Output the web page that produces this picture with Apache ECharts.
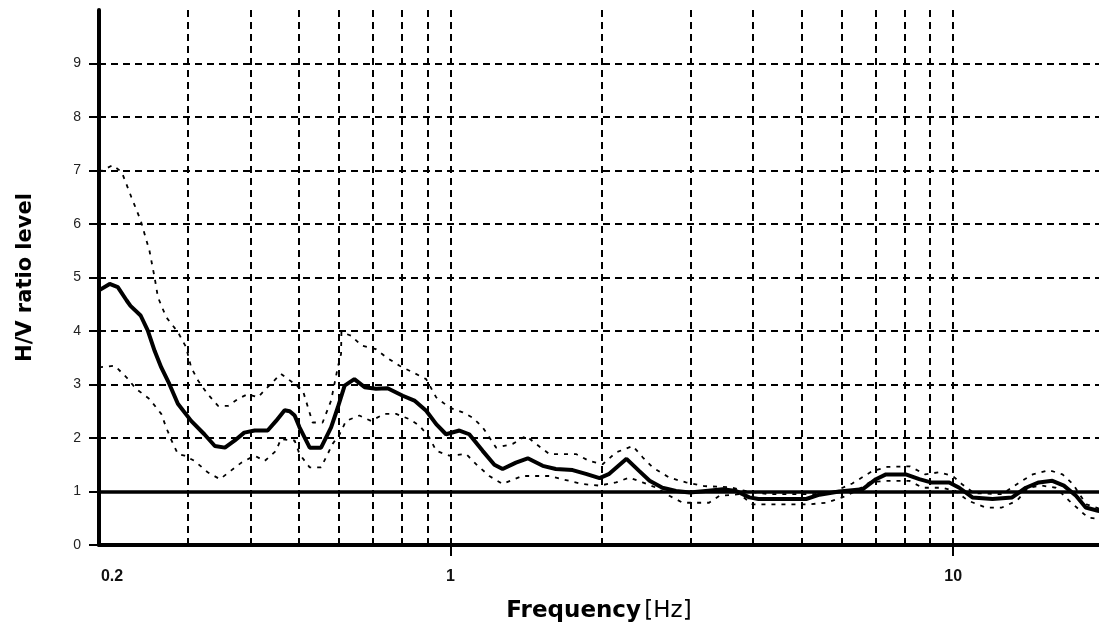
<!DOCTYPE html>
<html><head><meta charset="utf-8">
<script src="https://cdn.jsdelivr.net/npm/echarts@6/dist/echarts.min.js"></script>
<style>html,body{margin:0;padding:0;background:#fff}#c{width:1099px;height:634px}</style>
</head><body><div id="c"></div>
<script>
// Mean H/V curve
const freqMean = [0.2,0.21,0.218,0.227,0.231,0.242,0.25,0.258,0.266,0.276,0.287,0.305,0.324,0.34,0.356,0.372,0.389,0.408,0.433,0.45,0.468,0.479,0.49,0.501,0.525,0.553,0.579,0.597,0.616,0.644,0.675,0.711,0.75,0.804,0.848,0.895,0.937,0.98,1.042,1.09,1.159,1.223,1.27,1.35,1.425,1.526,1.62,1.75,1.86,1.98,2.07,2.24,2.37,2.49,2.64,2.81,2.99,3.22,3.48,3.7,3.93,4.1,5.1,5.42,5.93,6.6,7.02,7.35,8.05,8.56,9.03,9.82,10.28,10.92,11.97,13.1,13.95,14.8,15.75,16.6,17.55,18.35,19.4,20];
const hvMean = [4.76,4.88,4.82,4.57,4.47,4.29,4.01,3.63,3.32,3.01,2.64,2.32,2.07,1.85,1.82,1.95,2.10,2.14,2.14,2.32,2.52,2.50,2.42,2.20,1.82,1.82,2.20,2.57,2.98,3.10,2.95,2.92,2.93,2.79,2.70,2.51,2.26,2.07,2.14,2.07,1.76,1.50,1.42,1.54,1.62,1.48,1.42,1.40,1.33,1.25,1.33,1.61,1.39,1.20,1.07,1.01,0.98,1.01,1.04,1.01,0.89,0.86,0.86,0.94,1.00,1.04,1.23,1.32,1.32,1.23,1.17,1.17,1.07,0.89,0.86,0.89,1.07,1.17,1.20,1.11,0.92,0.70,0.64,0.62];

// Upper bound (mean + std)
const freqUpper = [0.2,0.213,0.222,0.232,0.242,0.252,0.258,0.262,0.272,0.287,0.298,0.305,0.315,0.329,0.345,0.361,0.378,0.395,0.414,0.433,0.46,0.49,0.509,0.532,0.557,0.579,0.597,0.606,0.607,0.635,0.665,0.711,0.745,0.792,0.841,0.895,0.937,0.995,1.058,1.107,1.159,1.233,1.33,1.414,1.48,1.573,1.778,1.889,2.008,2.135,2.304,2.412,2.525,2.725,2.941,3.2,3.6,3.9,4.3,5.3,5.8,6.3,6.9,7.4,8.2,8.8,9.38,9.98,10.4,11,12.5,13.7,14.4,15.5,16.5,17.3,18.4,19.4,20];
const hvUpper = [6.97,7.10,6.97,6.50,6.07,5.50,5.00,4.63,4.26,3.98,3.70,3.32,3.07,2.82,2.60,2.60,2.73,2.82,2.76,2.95,3.20,3.01,2.88,2.29,2.29,2.70,3.32,3.57,3.98,3.91,3.73,3.66,3.51,3.35,3.23,3.10,2.76,2.57,2.48,2.38,2.20,1.82,1.89,2.04,1.89,1.70,1.70,1.57,1.51,1.73,1.85,1.64,1.45,1.26,1.17,1.10,1.08,1.00,0.95,0.95,1.00,1.15,1.38,1.46,1.47,1.32,1.36,1.29,1.14,0.97,0.95,1.20,1.32,1.40,1.32,1.14,0.76,0.69,0.66];

// Lower bound (mean - std)
const freqLower = [0.2,0.215,0.227,0.237,0.252,0.266,0.272,0.278,0.287,0.296,0.31,0.329,0.348,0.366,0.384,0.408,0.427,0.45,0.46,0.49,0.501,0.525,0.553,0.57,0.583,0.602,0.62,0.659,0.695,0.739,0.78,0.83,0.868,0.908,0.937,0.995,1.075,1.125,1.195,1.27,1.39,1.573,1.67,1.83,1.98,2.135,2.27,2.41,2.57,2.725,2.9,3.08,3.27,3.43,3.76,3.99,5.17,5.58,6.02,6.41,6.81,7.35,8.18,8.7,9.5,10.1,10.7,11.6,12.5,13.4,14.1,15,16,17,18.2,18.6,20];
const hvLower = [3.32,3.35,3.13,2.92,2.73,2.45,2.20,1.98,1.70,1.67,1.57,1.36,1.23,1.39,1.54,1.67,1.57,1.76,1.98,1.95,1.70,1.45,1.45,1.70,1.89,2.07,2.32,2.42,2.32,2.45,2.45,2.35,2.23,2.01,1.76,1.67,1.70,1.51,1.29,1.14,1.29,1.29,1.23,1.14,1.11,1.17,1.26,1.17,1.07,0.92,0.79,0.79,0.79,0.92,0.95,0.76,0.76,0.79,0.89,1.01,1.17,1.20,1.20,1.07,1.07,1.01,0.83,0.70,0.70,0.83,1.07,1.11,1.07,0.83,0.58,0.51,0.48];

// Axis / grid values
const xGridLines = [0.3,0.4,0.5,0.6,0.7,0.8,0.9,1,2,3,4,5,6,7,8,9,10];
const yGridLines = [2,3,4,5,6,7,8,9];
const referenceLevel = 1;
const xTickLabels = [0.2, 1, 10];
const xMajorTicks = [1, 10];
const yTickLabels = [0,1,2,3,4,5,6,7,8,9];

const zip = (xs, ys) => xs.map((x, i) => [x, ys[i]]);

const chart = echarts.init(document.getElementById('c'), null, {renderer: 'canvas'});
const gridDash = {color: '#000', width: 2, type: [7, 5]};
const curveDash = {color: '#000', width: 1.8, type: [4, 6]};
chart.setOption({
  animation: false,
  backgroundColor: '#fff',
  grid: {left: 99, top: 10, right: 0, bottom: 89, containLabel: false},
  xAxis: {
    type: 'log', logBase: 10, min: 0.2, max: 19.5,
    name: '{b|Frequency} {n|[Hz]}', nameLocation: 'middle', nameGap: 55,
    nameTextStyle: {rich: {
      b: {fontFamily: 'DejaVu Sans', fontWeight: 'bold', fontSize: 23, color: '#000'},
      n: {fontFamily: 'DejaVu Sans', fontWeight: 'normal', fontSize: 23, color: '#000'}
    }},
    axisLine: {show: true, lineStyle: {color: '#000', width: 4}},
    axisTick: {show: true, customValues: xMajorTicks, length: 11, lineStyle: {color: '#000', width: 2}},
    axisLabel: {customValues: xTickLabels, margin: 24, fontFamily: 'Liberation Sans', fontWeight: 'bold', fontSize: 16, color: '#111',
      formatter: v => Math.abs(v - 0.2) < 0.01 ? '{p|0.2}' : String(Math.round(v)),
      rich: {p: {padding: [0, 0, 0, 26], fontFamily: 'Liberation Sans', fontWeight: 'bold', fontSize: 16, color: '#111'}}},
    splitLine: {show: false}
  },
  yAxis: {
    type: 'value', min: 0, max: 10,
    name: 'H/V ratio level', nameLocation: 'middle', nameRotate: 90, nameGap: 63,
    nameTextStyle: {fontFamily: 'DejaVu Sans', fontWeight: 'bold', fontSize: 21, color: '#000'},
    axisLine: {show: true, lineStyle: {color: '#000', width: 4}},
    axisTick: {show: true, customValues: yTickLabels, length: 10, lineStyle: {color: '#000', width: 2}},
    axisLabel: {customValues: yTickLabels, margin: 18, fontFamily: 'Liberation Sans', fontSize: 14, color: '#222'},
    splitLine: {show: false}
  },
  series: [
    {type: 'line', data: [], z: 1, silent: true,
      markLine: {silent: true, symbol: 'none', label: {show: false}, lineStyle: gridDash, emphasis: {disabled: true},
        data: xGridLines.map(v => ({xAxis: v})).concat(yGridLines.map(v => ({yAxis: v})))}},
    {type: 'line', data: [], z: 2, silent: true,
      markLine: {silent: true, symbol: 'none', label: {show: false}, lineStyle: {color: '#000', width: 3.5, type: 'solid'}, emphasis: {disabled: true},
        data: [{yAxis: referenceLevel}]}},
    {type: 'line', name: 'upper', data: zip(freqUpper, hvUpper), showSymbol: false, z: 3, lineStyle: curveDash},
    {type: 'line', name: 'lower', data: zip(freqLower, hvLower), showSymbol: false, z: 3, lineStyle: curveDash},
    {type: 'line', name: 'mean', data: zip(freqMean, hvMean), showSymbol: false, z: 4,
      lineStyle: {color: '#000', width: 4}}
  ]
});
</script></body></html>
